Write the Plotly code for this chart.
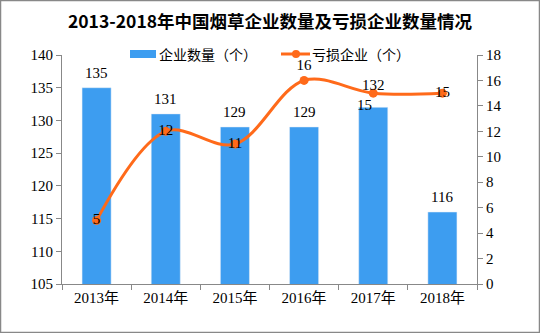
import plotly.graph_objects as go

years = ["2013年", "2014年", "2015年", "2016年", "2017年", "2018年"]
companies = [135, 131, 129, 129, 132, 116]
loss_companies = [5, 12, 11, 16, 15, 15]
bar_name = "企业数量（个）"
line_name = "亏损企业（个）"

FONT = "Liberation Serif, Noto Sans CJK SC"
CJK = "Noto Sans CJK SC"
W, H = 540, 333
L, R, T, B = 62, 63, 55, 49
PW, PH = W - L - R, H - T - B


def px(x):
    return (x - L) / PW


def py(y):
    return (H - B - y) / PH


# line labels: index 4 placed via annotation below
line_text = [str(v) for v in loss_companies]
line_text[4] = ""

fig = go.Figure()
fig.add_trace(go.Bar(
    x=years, y=companies, name=bar_name,
    marker_color="#3D9DF0", width=0.42,
    showlegend=False,
))
fig.add_trace(go.Scatter(
    x=years, y=loss_companies, name=line_name, yaxis="y2",
    mode="lines+markers+text",
    line=dict(color="#FF6A1A", width=3, shape="spline", smoothing=1.0),
    marker=dict(size=9, color="#FF6A1A"),
    text=line_text,
    textposition=["middle center", "middle center", "middle center",
                  "top center", "middle center", "middle center"],
    textfont=dict(size=15, color="#000", family=FONT),
    cliponaxis=False, showlegend=False,
))

shapes = [
    dict(type="rect", xref="paper", yref="paper",
         x0=px(0.5), x1=px(W - 0.5), y0=py(H - 0.5), y1=py(0.5),
         line=dict(color="#888", width=1.5)),
    # legend symbols
    dict(type="rect", xref="paper", yref="paper",
         x0=px(130), x1=px(156), y0=py(58), y1=py(50),
         fillcolor="#3D9DF0", line=dict(width=0)),
    dict(type="line", xref="paper", yref="paper",
         x0=px(281), x1=px(310), y0=py(54), y1=py(54),
         line=dict(color="#FF6A1A", width=3)),
    dict(type="circle", xref="paper", yref="paper",
         x0=px(292), x1=px(300), y0=py(58), y1=py(50),
         fillcolor="#FF6A1A", line=dict(width=0)),
]
annotations = [
    dict(text=bar_name, xref="paper", yref="paper", x=px(157), y=py(54),
         xanchor="left", yanchor="middle", showarrow=False,
         font=dict(size=14, color="#000", family=CJK)),
    dict(text=line_name, xref="paper", yref="paper", x=px(310), y=py(54),
         xanchor="left", yanchor="middle", showarrow=False,
         font=dict(size=14, color="#000", family=CJK)),
    dict(text=str(loss_companies[4]), xref="x", yref="y2",
         x=years[4], y=loss_companies[4], xshift=-9, yshift=-12,
         showarrow=False, font=dict(size=15, color="#000", family=FONT)),
]
# bar value labels above bars (the 2017 one lifted above the line marker)
for i, (yr, v) in enumerate(zip(years, companies)):
    annotations.append(dict(
        text=str(v), xref="x", yref="y", x=yr, y=v,
        yanchor="middle", yshift=22 if i == 4 else 15,
        showarrow=False, font=dict(size=15, color="#000", family=FONT)))

fig.update_layout(
    width=W, height=H,
    margin=dict(l=L, r=R, t=T, b=B),
    paper_bgcolor="white", plot_bgcolor="white",
    title=dict(text="<b>2013-2018年中国烟草企业数量及亏损企业数量情况</b>",
               x=0.5, xanchor="center", y=1 - 22 / H, yanchor="middle",
               font=dict(size=17.5, color="#000", family=CJK)),
    showlegend=False,
    bargap=0.5,
    xaxis=dict(showline=True, linecolor="#888", linewidth=1,
               ticks="outside", tickcolor="#888", ticklen=5, tickson="boundaries",
               tickfont=dict(size=15, color="#000", family=FONT)),
    yaxis=dict(range=[105, 140], dtick=5, showgrid=False, showline=True,
               linecolor="#888", linewidth=1, ticks="outside", tickcolor="#888",
               ticklen=5, zeroline=False,
               tickfont=dict(size=15, color="#000", family=FONT)),
    yaxis2=dict(range=[0, 18], dtick=2, overlaying="y", side="right",
                showgrid=False, showline=True, linecolor="#888", linewidth=1,
                ticks="outside", tickcolor="#888", ticklen=5, zeroline=False,
                tickfont=dict(size=15, color="#000", family=FONT)),
    shapes=shapes,
    annotations=annotations,
)

fig.write_html("out.html")
